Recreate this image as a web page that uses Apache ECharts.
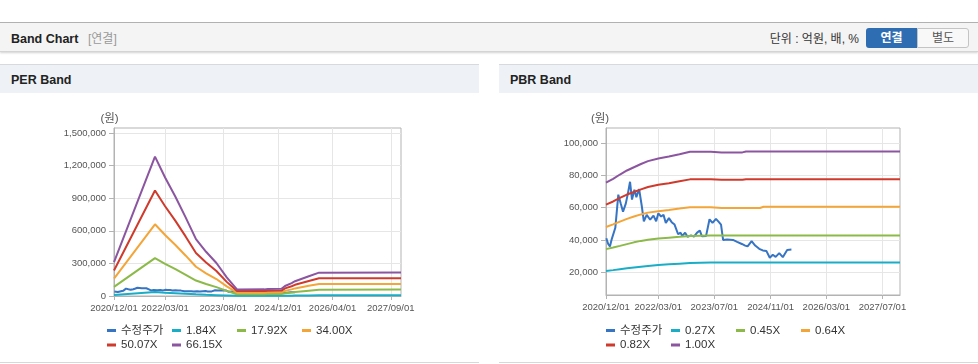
<!DOCTYPE html>
<html><head><meta charset="utf-8">
<script src="https://cdn.jsdelivr.net/npm/echarts@6/dist/echarts.min.js"></script>
<style>
html,body{margin:0;padding:0;background:#fff;width:978px;height:364px;overflow:hidden;font-family:'Liberation Sans','Noto Sans CJK KR',sans-serif;}
.abs{position:absolute;}
#topline{left:0;top:22px;width:978px;height:1px;background:#b4b4b4;}
#hbar{left:0;top:23px;width:978px;height:28px;background:#f4f4f4;border-bottom:1px solid #d4d4d4;box-shadow:0 1px 2px rgba(0,0,0,0.18);}
#htitle{left:11px;top:31px;font-size:12.5px;font-weight:bold;color:#222;line-height:16px;}
#hsub{left:88px;top:31px;font-size:12px;color:#999;line-height:16px;}
#hunit{left:700px;width:159px;text-align:right;top:31px;font-size:12px;color:#333;line-height:16px;}
#btn1{left:866px;top:28px;width:51px;height:20px;background:#2f6db3;color:#fff;font-weight:bold;font-size:12px;text-align:center;line-height:20px;border-radius:3px 0 0 3px;}
#btn2{left:917px;top:28px;width:50px;height:18px;background:#f8f8f8;color:#555;font-size:12px;text-align:center;line-height:18px;border:1px solid #c4c4c4;border-radius:0 3px 3px 0;}
.ph{top:64px;height:28px;background:#eef2f7;border-top:1px solid #d6d9de;}
.pt{top:72px;font-size:12.5px;font-weight:bold;color:#222;line-height:16px;}
.pb{top:362px;height:1px;background:#d8d8d8;}
#chart{left:0;top:0;width:978px;height:364px;}
</style>
</head><body>
<div class="abs" id="topline"></div>
<div class="abs" id="hbar"></div>
<div class="abs" id="htitle">Band Chart</div>
<div class="abs" id="hsub">[연결]</div>
<div class="abs" id="hunit">단위 : 억원, 배, %</div>
<div class="abs" id="btn1">연결</div>
<div class="abs" id="btn2">별도</div>
<div class="abs ph" style="left:0;width:479px;"></div>
<div class="abs ph" style="left:499px;width:479px;"></div>
<div class="abs pt" style="left:11px;">PER Band</div>
<div class="abs pt" style="left:510px;">PBR Band</div>
<div class="abs pb" style="left:0;width:479px;"></div>
<div class="abs pb" style="left:499px;width:479px;"></div>
<div class="abs" id="chart"></div>
<script>
// ---------- data ----------
const perLegendNames = ['수정주가', '1.84X', '17.92X', '34.00X', '50.07X', '66.15X'];
const pbrLegendNames = ['수정주가', '0.27X', '0.45X', '0.64X', '0.82X', '1.00X'];

const xRange = ['2020-12-01', '2027-12-01'];
const perXTicks = ['2020-12-01', '2022-03-01', '2023-08-01', '2024-12-01', '2026-04-01', '2027-09-01'];
const pbrXTicks = ['2020-12-01', '2022-03-01', '2023-07-01', '2024-11-01', '2026-03-01', '2027-07-01'];
const perYTicks = [0, 300000, 600000, 900000, 1200000, 1500000];
const pbrYTicks = [20000, 40000, 60000, 80000, 100000];

// adjusted price (수정주가)
const priceDates = ['2020-12-04','2020-12-20','2021-01-04','2021-01-20','2021-02-20','2021-03-18','2021-04-08','2021-04-28','2021-05-22','2021-06-10','2021-06-28','2021-07-15','2021-08-05','2021-08-22','2021-09-15','2021-10-08','2021-10-26','2021-11-20','2021-12-20','2022-01-18','2022-02-10','2022-03-01','2022-03-25','2022-04-15','2022-05-05','2022-06-01','2022-06-25','2022-07-20','2022-08-20','2022-09-10','2022-09-25','2022-10-20','2022-11-10','2022-12-10','2023-01-05','2023-02-01','2023-02-25','2023-03-15','2023-04-20','2023-05-20','2023-06-15','2023-07-15','2023-08-10','2023-08-28','2023-09-15','2023-10-20','2023-12-10','2024-01-15','2024-02-25','2024-03-25','2024-04-15','2024-05-20','2024-06-20','2024-07-25','2024-08-25','2024-09-25','2024-10-25','2024-11-20','2024-12-15','2025-01-15','2025-02-15','2025-03-25','2025-05-01'];
const priceValues = [41000,37500,36000,40500,47500,68000,62500,57500,62500,69000,76000,65000,71000,66500,71500,61000,51500,55500,52500,55000,51500,56500,54500,55500,50500,53500,51000,49500,43500,44500,42500,44500,42000,42800,42000,44500,45800,42200,42500,52800,50500,53000,51000,49500,40000,40300,40000,38800,37500,36500,36000,39200,36500,34500,33500,33200,29000,30800,29500,31800,29300,33800,34000];

// PER band
const perBandDates = ['2020-12-01','2021-12-01','2022-03-01','2022-06-01','2022-09-01','2022-12-01','2023-03-01','2023-06-01','2023-09-01','2023-12-01','2024-08-01','2024-09-01','2025-01-01','2025-02-01','2025-04-01','2025-05-01','2025-09-01','2025-12-01','2027-12-01'];
const per184  = [9000,36000,30000,25000,20000,15000,11000,8000,5000,2000,2000,2000,2000,3000,3000,4000,5000,6000,6000];
const per1792 = [84000,348000,296000,247000,195000,142000,110000,82000,47000,16000,16000,18000,18000,25000,32000,37000,49000,58000,59000];
const per3400 = [160000,660000,561000,469000,371000,269000,209000,156000,88000,31000,31000,33000,34000,47000,61000,70000,94000,111000,111000];
const per5007 = [235000,971000,826000,691000,546000,396000,308000,230000,130000,45000,46000,49000,50000,70000,90000,103000,138000,163000,164000];
const per6615 = [311000,1283000,1091000,913000,721000,523000,407000,304000,172000,60000,61000,65000,66000,92000,119000,136000,182000,215000,216000];

// PBR band
const pbrBandDates = ['2020-12-01','2021-02-01','2021-04-01','2021-06-01','2021-08-01','2021-10-01','2021-12-01','2022-03-01','2022-06-01','2022-09-01','2022-12-01','2023-06-01','2023-09-01','2024-03-01','2024-04-01','2024-08-01','2024-09-01','2027-12-01'];
const pbr027 = [20700,21300,21900,22400,22900,23400,23900,24500,24900,25300,25700,26000,26000,26000,26000,26000,26000,26000];
const pbr045 = [34300,35300,36300,37400,38500,39400,40100,40900,41400,41900,42500,42700,42700,42700,42800,42800,42800,42800];
const pbr064 = [48000,49600,51300,53000,54500,55800,56900,57700,58500,59400,60300,60200,59800,59800,59800,59800,60500,60500];
const pbr082 = [61900,63800,66000,68100,69700,71300,72800,74100,75100,76300,77500,77500,77300,77300,77600,77600,77600,77600];
const pbr100 = [75500,77800,80500,83000,85000,87000,88800,90400,91600,93000,94600,94600,94200,94200,94700,94700,94700,94700];

// ---------- styling ----------
const colors = ['#3674c4', '#19adc6', '#8cba48', '#f4a537', '#cf3a2c', '#8c55a0'];
const FONT = "'Liberation Sans','Noto Sans CJK KR',sans-serif";
const AX = '#b3b3b3';

function ts(s) { const p = s.split('-').map(Number); return new Date(p[0], p[1] - 1, p[2]).getTime(); }
function pair(dates, vals) { return dates.map((d, i) => [ts(d), vals[i]]); }
function pad(n) { return (n < 10 ? '0' : '') + n; }
function fmtDate(v) { const d = new Date(v); return d.getFullYear() + '/' + pad(d.getMonth() + 1) + '/' + pad(d.getDate()); }
function fmtNum(v) { return Math.round(v).toLocaleString('en-US'); }

function xAxis(gridIndex, ticks) {
  const tv = ticks.map(ts);
  return {
    type: 'value', gridIndex, min: ts(xRange[0]), max: ts(xRange[1]),
    axisLine: { lineStyle: { color: AX } },
    axisTick: { show: true, length: 4, lineStyle: { color: AX }, customValues: tv },
    axisLabel: { customValues: tv, formatter: fmtDate, color: '#555', fontSize: 9.5, fontFamily: FONT, margin: 8,
      hideOverlap: false, showMinLabel: true, showMaxLabel: true },
    splitLine: { show: true, lineStyle: { color: '#e6e6e6' } }
  };
}
function yAxis(gridIndex, min, max, ticks, nameShift) {
  return {
    type: 'value', gridIndex, min, max,
    name: '(원)', nameLocation: 'end', nameGap: 3,
    nameTextStyle: { color: '#555', fontSize: 11.5, fontFamily: FONT, align: 'center', padding: [0, nameShift, 0, 0] },
    axisLine: { show: true, lineStyle: { color: AX } },
    axisTick: { show: true, length: 5, lineStyle: { color: AX }, customValues: ticks },
    axisLabel: { customValues: ticks, formatter: fmtNum, color: '#555', fontSize: 9.5, fontFamily: FONT, margin: 8 },
    splitLine: { show: true, lineStyle: { color: '#e6e6e6' } }
  };
}
function lineSeries(name, data, color, xi) {
  return { type: 'line', name, data, xAxisIndex: xi, yAxisIndex: xi, showSymbol: false, symbol: 'none',
    lineStyle: { width: 2, color }, itemStyle: { color }, animation: false, silent: true };
}
function legend(names, left) {
  return {
    data: names, left, top: 330 - 5.75, orient: 'horizontal', width: 262, padding: 0,
    itemGap: 2, itemWidth: 9, itemHeight: 3, icon: 'rect',
    textStyle: { fontSize: 11.5, lineHeight: 12.5, width: 49, color: '#333', fontFamily: FONT },
    selectedMode: false
  };
}

const chart = echarts.init(document.getElementById('chart'), null, { renderer: 'canvas' });
chart.setOption({
  backgroundColor: 'transparent',
  animation: false,
  grid: [
    { left: 114, top: 128, width: 287, height: 168, show: true, backgroundColor: '#fff', borderColor: AX, borderWidth: 1 },
    { left: 606, top: 128, width: 294, height: 167, show: true, backgroundColor: '#fff', borderColor: AX, borderWidth: 1 }
  ],
  xAxis: [xAxis(0, perXTicks), xAxis(1, pbrXTicks)],
  yAxis: [yAxis(0, 0, 1546000, perYTicks, 9), yAxis(1, 5900, 109300, pbrYTicks, 12)],
  legend: [legend(perLegendNames, 107), legend(pbrLegendNames, 606)],
  series: [
    lineSeries(perLegendNames[0], pair(priceDates, priceValues), colors[0], 0),
    lineSeries(perLegendNames[1], pair(perBandDates, per184), colors[1], 0),
    lineSeries(perLegendNames[2], pair(perBandDates, per1792), colors[2], 0),
    lineSeries(perLegendNames[3], pair(perBandDates, per3400), colors[3], 0),
    lineSeries(perLegendNames[4], pair(perBandDates, per5007), colors[4], 0),
    lineSeries(perLegendNames[5], pair(perBandDates, per6615), colors[5], 0),
    lineSeries(pbrLegendNames[0], pair(priceDates, priceValues), colors[0], 1),
    lineSeries(pbrLegendNames[1], pair(pbrBandDates, pbr027), colors[1], 1),
    lineSeries(pbrLegendNames[2], pair(pbrBandDates, pbr045), colors[2], 1),
    lineSeries(pbrLegendNames[3], pair(pbrBandDates, pbr064), colors[3], 1),
    lineSeries(pbrLegendNames[4], pair(pbrBandDates, pbr082), colors[4], 1),
    lineSeries(pbrLegendNames[5], pair(pbrBandDates, pbr100), colors[5], 1)
  ]
});
</script>
</body></html>
